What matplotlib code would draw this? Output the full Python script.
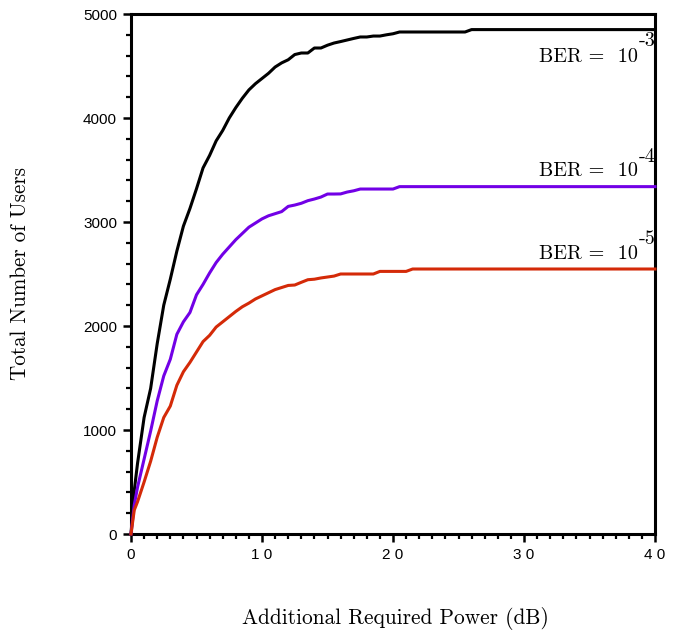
import matplotlib
matplotlib.use("Agg")
import matplotlib.pyplot as plt
from matplotlib.ticker import MultipleLocator, FixedLocator, FixedFormatter

# ---- data ----
power_db = [0, 0.25, 0.5, 1.0, 1.5, 2.0, 2.5, 3.0, 3.5, 4.0, 4.5, 5.0, 5.5, 6.0, 6.5,
            7.0, 7.5, 8.0, 8.5, 9.0, 9.5, 10.0, 10.5, 11.0, 11.5, 12.0, 12.5, 13.0,
            13.5, 14.0, 14.5, 15.0, 15.5, 16.0, 16.5, 17.0, 17.5, 18.0, 18.5, 19.0,
            19.5, 20.0, 20.5, 21.0, 21.5, 22.0, 25.5, 26.0, 30.0, 40.0]

users_ber3 = [0, 420, 680, 1120, 1400, 1830, 2200, 2450, 2720, 2960, 3130, 3320, 3520,
              3640, 3780, 3880, 4000, 4100, 4190, 4270, 4330, 4380, 4430, 4490, 4530,
              4560, 4610, 4625, 4625, 4673, 4673, 4700, 4721, 4735, 4750, 4765, 4779,
              4779, 4788, 4788, 4800, 4810, 4827, 4827, 4827, 4827, 4827, 4850, 4850, 4850]

users_ber4 = [0, 280, 450, 720, 990, 1280, 1520, 1680, 1920, 2040, 2130, 2300, 2400,
              2510, 2610, 2690, 2760, 2830, 2890, 2950, 2990, 3030, 3060, 3080, 3100,
              3150, 3163, 3180, 3205, 3221, 3240, 3269, 3269, 3270, 3288, 3300, 3317,
              3317, 3317, 3317, 3317, 3317, 3340, 3340, 3340, 3340, 3340, 3340, 3340, 3340]

users_ber5 = [0, 230, 310, 500, 700, 930, 1120, 1230, 1430, 1560, 1650, 1750, 1850,
              1910, 1990, 2040, 2090, 2140, 2185, 2220, 2260, 2290, 2320, 2350, 2370,
              2390, 2394, 2420, 2445, 2450, 2462, 2471, 2480, 2500, 2500, 2500, 2500,
              2500, 2500, 2525, 2525, 2525, 2525, 2525, 2548, 2548, 2548, 2548, 2548, 2548]

ber_exponents = ["-3", "-4", "-5"]
x_ticks = [0, 10, 20, 30, 40]
x_ticklabels = ["0", "1 0", "2 0", "3 0", "4 0"]
y_ticks = [0, 1000, 2000, 3000, 4000, 5000]

colors = ["#000000", "#7200e6", "#d42a08"]

fig = plt.figure(figsize=(6.86, 6.31), dpi=100)
ax = fig.add_axes([131/686, 1-534/631, (655-131)/686, (534-14)/631])

for ys, c in zip([users_ber3, users_ber4, users_ber5], colors):
    ax.plot(power_db, ys, color=c, lw=2.2, solid_joinstyle="round", clip_on=False, zorder=3)

ax.set_xlim(0, 40)
ax.set_ylim(0, 5000)

ax.xaxis.set_major_locator(FixedLocator(x_ticks))
ax.xaxis.set_major_formatter(FixedFormatter(x_ticklabels))
ax.xaxis.set_minor_locator(MultipleLocator(1))
ax.yaxis.set_major_locator(FixedLocator(y_ticks))
ax.yaxis.set_minor_locator(MultipleLocator(200))

for s in ax.spines.values():
    s.set_linewidth(2.2)
ax.tick_params(which="major", direction="out", length=6, width=1.8, labelsize=11,
               top=False, right=False, pad=4)
ax.tick_params(which="minor", direction="out", length=3.5, width=1.6, top=False, right=False)
for lab in ax.get_xticklabels() + ax.get_yticklabels():
    lab.set_fontfamily("Liberation Sans")

serif = "cmr10"
fig.text(20/686, 1-274/631, "Total Number of Users", rotation=90, ha="center", va="center",
         fontsize=15.2, family=serif)
fig.text(395/686, 1-619/631, "Additional Required Power (dB)", ha="center", va="center",
         fontsize=15.4, family=serif)

label_y = [4587, 3490, 2692]
sup_y = [4740, 3625, 2837]
for exp, yv, sy in zip(ber_exponents, label_y, sup_y):
    ax.text(38.7, yv, "BER =  10", ha="right", va="center", fontsize=14.5, family=serif)
    ax.text(38.75, sy, exp, ha="left", va="center", fontsize=14.5, family=serif)

fig.savefig("out.png", dpi=100)
